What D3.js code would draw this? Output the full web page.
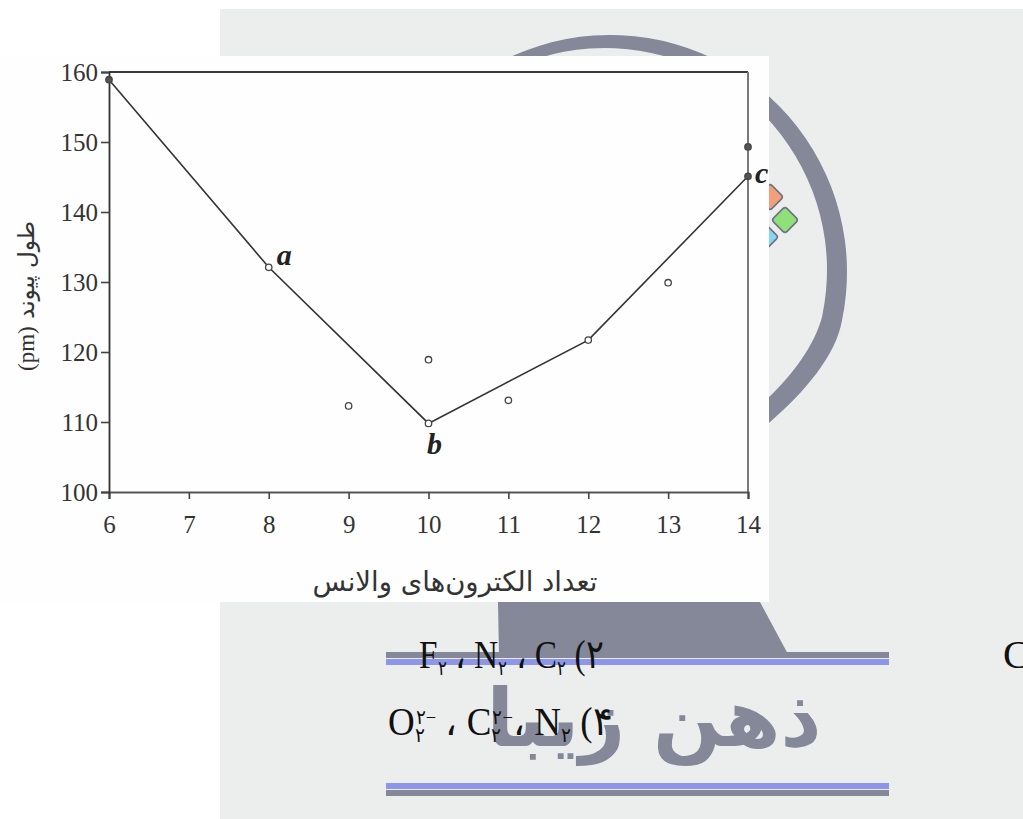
<!DOCTYPE html>
<html><head><meta charset="utf-8">
<script src="https://cdn.jsdelivr.net/npm/d3@7"></script>
<style>html,body{margin:0;padding:0;background:#fff}svg{display:block}</style>
</head><body>
<svg id="c" width="1023" height="819"></svg>
<script>
// ---------- data ----------
const xTicks = [6, 7, 8, 9, 10, 11, 12, 13, 14];
const yTicks = [100, 110, 120, 130, 140, 150, 160];
const lineX = [6, 8, 10, 12, 14];
const lineY = [158.9, 132.1, 109.8, 121.7, 145.1];
const lineLabels = ["", "a", "b", "", "c"];
const extraX = [9, 10, 11, 13, 14];
const extraY = [112.3, 118.9, 113.1, 129.9, 149.3];
const xTitle = "تعداد الکترون‌های والانس";
const yTitleFa = " طول پیوند";
const yTitleUnit = "(pm)";
const watermark = "ذهن زیبا";

// ---------- layout ----------
const W = 1023, H = 819;
const svg = d3.select("#c");
const FA = "'DejaVu Sans', sans-serif";
const SERIF = "'Liberation Serif', 'Times New Roman', serif";
const GREY = "#858898";

// page background + watermark panel
svg.append("rect").attr("width", W).attr("height", H).attr("fill", "#fff");
svg.append("rect").attr("x", 220).attr("y", 9).attr("width", W - 220).attr("height", H - 9).attr("fill", "#eceeee");

// logo ring
const rp = d3.path();
const oc = [610, 272, 237], ic = [605, 270, 222];
const rad = d => d * Math.PI / 180;
rp.moveTo(oc[0] + oc[2] * Math.cos(rad(160)), oc[1] + oc[2] * Math.sin(rad(160)));
rp.arc(oc[0], oc[1], oc[2], rad(160), rad(372), false);
rp.bezierCurveTo(836, 355, 805, 392, 769, 423);
rp.lineTo(720, 470);
rp.lineTo(720, 440);
rp.lineTo(769, 397);
rp.bezierCurveTo(792, 375, 815, 345, ic[0] + ic[2] * Math.cos(rad(372)), ic[1] + ic[2] * Math.sin(rad(372)));
rp.arc(ic[0], ic[1], ic[2], rad(372), rad(160), true);
rp.closePath();
svg.append("path").attr("d", rp.toString()).attr("fill", GREY);

// coloured squares of the logo
const sq = [[770, 197, "#f2a07c"], [785, 220, "#8fe07a"], [765, 237, "#86d6f2"]];
svg.selectAll("rect.sq").data(sq).join("rect").attr("class", "sq")
  .attr("x", -9.5).attr("y", -9.5).attr("width", 19).attr("height", 19).attr("rx", 3)
  .attr("transform", d => `translate(${d[0]},${d[1]}) rotate(45)`)
  .attr("fill", d => d[2]).attr("stroke", "#6f7282").attr("stroke-width", 1.6);

// pen-like shape under the chart
svg.append("path").attr("d", "M498,602L760,602L789,656L499,656Z").attr("fill", GREY);

// stripes
const stripes = [[652, 6, GREY], [659, 6, "#8d95ec"], [783, 6, "#8d95ec"], [790, 6, GREY]];
svg.selectAll("rect.st").data(stripes).join("rect").attr("class", "st")
  .attr("x", 386).attr("width", 503).attr("y", d => d[0]).attr("height", d => d[1]).attr("fill", d => d[2]);

// watermark text
const wm = svg.append("text").attr("x", 654).attr("y", 746).attr("text-anchor", "middle")
  .attr("font-family", FA).attr("font-weight", "bold").attr("font-size", 70)
  .attr("fill", GREY).text(watermark);
{
  const L = wm.node().getComputedTextLength();
  wm.attr("font-size", 70 * 335 / L);
}

// ---------- chart panel ----------
svg.append("rect").attr("x", 0).attr("y", 56).attr("width", 769).attr("height", 546).attr("fill", "#fefefe");

const x = d3.scaleLinear().domain([6, 14]).range([109, 748]);
const y = d3.scaleLinear().domain([100, 160]).range([492, 72]);

// frame (top / right)
svg.append("line").attr("x1", x(6)).attr("x2", x(14)).attr("y1", y(160)).attr("y2", y(160))
  .attr("stroke", "#3a3a3a").attr("stroke-width", 1.8);
svg.append("line").attr("x1", x(14)).attr("x2", x(14)).attr("y1", y(160)).attr("y2", y(100))
  .attr("stroke", "#7a7a7a").attr("stroke-width", 2);

const gx = svg.append("g").attr("transform", `translate(0,${y(100)})`)
  .call(d3.axisBottom(x).tickValues(xTicks).tickSize(7).tickPadding(16).tickFormat(d3.format("d")));
const gy = svg.append("g").attr("transform", `translate(${x(6)},0)`)
  .call(d3.axisLeft(y).tickValues(yTicks).tickSize(8).tickPadding(3).tickFormat(d3.format("d")));
[gx, gy].forEach(g => {
  g.attr("font-family", SERIF).attr("font-size", 25);
  g.selectAll("text").attr("fill", "#333");
  g.selectAll("line").attr("stroke", "#444").attr("stroke-width", 1.6);
});
gx.select(".domain").attr("stroke", "#555").attr("stroke-width", 2.2);
gy.select(".domain").attr("stroke", "#333").attr("stroke-width", 1.8);

// connected series
const line = d3.line().x(d => x(d[0])).y(d => y(d[1]));
const lineData = lineX.map((v, i) => [v, lineY[i], lineLabels[i]]);
svg.append("path").datum(lineData).attr("d", line).attr("fill", "none")
  .attr("stroke", "#333").attr("stroke-width", 1.6);

// points
const extraData = extraX.map((v, i) => [v, extraY[i]]);
svg.selectAll("circle.p").data(lineData.concat(extraData)).join("circle").attr("class", "p")
  .attr("cx", d => x(d[0])).attr("cy", d => y(d[1])).attr("r", 3.2)
  .attr("fill", d => (d[0] === 6 || d[0] === 14) ? "#555" : "#fff")
  .attr("stroke", "#444").attr("stroke-width", 1.3);

// point labels a, b, c
const labOff = { a: [8, -2, "start"], b: [6, 31, "middle"], c: [7, 7, "start"] };
svg.selectAll("text.lab").data(lineData.filter(d => d[2])).join("text").attr("class", "lab")
  .attr("x", d => x(d[0]) + labOff[d[2]][0]).attr("y", d => y(d[1]) + labOff[d[2]][1])
  .attr("text-anchor", d => labOff[d[2]][2])
  .attr("font-family", SERIF).attr("font-style", "italic").attr("font-weight", "bold")
  .attr("font-size", 30).attr("fill", "#222").text(d => d[2]);

// axis titles
const xt = svg.append("text").attr("x", 455).attr("y", 591).attr("text-anchor", "middle")
  .attr("font-family", FA).attr("font-size", 22).attr("fill", "#333").text(xTitle);
{
  const L = xt.node().getComputedTextLength();
  xt.attr("font-size", 22 * 285 / L);
}
const yt = svg.append("text").attr("transform", "translate(34,296) rotate(-90)")
  .attr("text-anchor", "middle").attr("fill", "#333").attr("font-size", 22);
yt.append("tspan").attr("font-family", SERIF).text(yTitleUnit);
yt.append("tspan").attr("font-family", FA).text(yTitleFa);
{
  const L = yt.node().getComputedTextLength();
  yt.attr("font-size", 22 * 150 / L);
}

// ---------- question options (overlay text) ----------
function formula(parts, xPos, yPos, len) {
  const t = svg.append("text").attr("x", xPos).attr("y", yPos)
    .attr("font-family", SERIF).attr("font-size", 40).attr("fill", "#111")
    .attr("textLength", len).attr("lengthAdjust", "spacingAndGlyphs");
  parts.forEach(p => {
    const s = t.append("tspan").text(p.t);
    if (p.fs) s.attr("font-size", p.fs);
    if (p.dy) s.attr("dy", p.dy);
    if (p.dx) s.attr("dx", p.dx);
  });
  return t;
}
const SUB = 20;
formula([
  { t: "F" }, { t: "۲", fs: SUB, dy: 7 }, { t: " ، ", dy: -7 },
  { t: "N" }, { t: "۲", fs: SUB, dy: 7 }, { t: " ، ", dy: -7 },
  { t: "C" }, { t: "۲", fs: SUB, dy: 7 }, { t: " (۲", dy: -7 }
], 419, 668, 184);
formula([
  { t: "O" }, { t: "۲", fs: SUB, dy: 7 }, { t: "۲−", fs: SUB, dy: -18, dx: -10 }, { t: " ، ", dy: 11 },
  { t: "C" }, { t: "۲", fs: SUB, dy: 7 }, { t: "۲−", fs: SUB, dy: -18, dx: -10 }, { t: "، ", dy: 11 },
  { t: "N" }, { t: "۲", fs: SUB, dy: 7 }, { t: " (۴", dy: -7 }
], 388, 735, 224);
svg.append("text").attr("x", 1003).attr("y", 668).attr("font-family", SERIF)
  .attr("font-size", 40).attr("fill", "#111").text("C");
</script>
</body></html>
